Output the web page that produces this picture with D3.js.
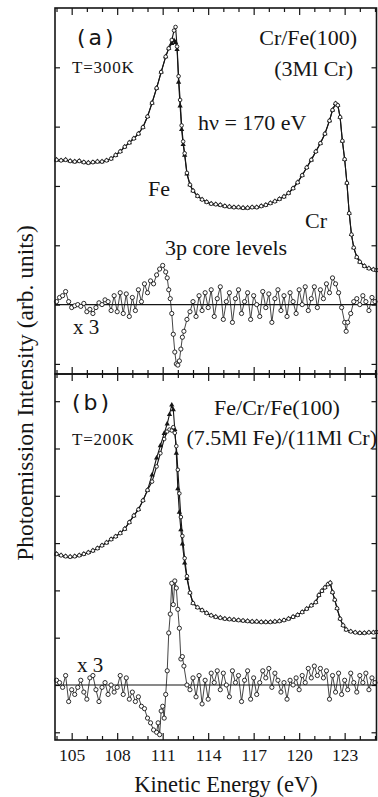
<!DOCTYPE html>
<html>
<head>
<meta charset="utf-8">
<script src="https://cdn.jsdelivr.net/npm/d3@7"></script>
<style>
  body { margin: 0; background: #fff; }
  text { font-family: "Liberation Serif", "Times New Roman", serif; fill: #151515; }
</style>
</head>
<body>
<svg id="chart" width="378" height="797"></svg>
<script>
// panel (a): Cr/Fe(100), spectra in arb. units (tick spacing = 1)
const energyA = [
  104.0, 104.3, 104.6, 104.9, 105.2, 105.5, 105.8, 106.1, 106.4, 106.7,
  107.0, 107.3, 107.6, 107.9, 108.2, 108.5, 108.8, 109.1, 109.4, 109.7,
  110.0, 110.3, 110.6, 110.9, 111.2, 111.4, 111.6, 111.75, 111.85, 111.95,
  112.05, 112.15, 112.25, 112.35, 112.45, 112.6, 112.8, 113.0, 113.3, 113.6,
  113.9, 114.2, 114.5, 114.8, 115.1, 115.4, 115.7, 116.0, 116.3, 116.6,
  116.9, 117.2, 117.5, 117.8, 118.1, 118.4, 118.7, 119.0, 119.3, 119.6,
  119.9, 120.2, 120.5, 120.8, 121.1, 121.4, 121.7, 122.0, 122.2, 122.4,
  122.55, 122.7, 122.85, 123.0, 123.15, 123.3, 123.45, 123.6, 123.8, 124.0,
  124.3, 124.6, 124.9, 125.1
];
const circA = [
  2.44, 2.43, 2.44, 2.42, 2.41, 2.42, 2.40, 2.39, 2.40, 2.41,
  2.41, 2.43, 2.46, 2.52, 2.58, 2.66, 2.73, 2.80, 2.88, 2.99,
  3.17, 3.40, 3.65, 3.92, 4.18, 4.32, 4.46, 4.62, 4.68, 4.35,
  3.85, 3.45, 3.02, 2.75, 2.55, 2.22, 2.02, 1.92, 1.83, 1.77,
  1.73, 1.70, 1.69, 1.68, 1.66, 1.65, 1.64, 1.64, 1.63, 1.63,
  1.64, 1.64, 1.66, 1.68, 1.71, 1.74, 1.78, 1.82, 1.88, 1.96,
  2.06, 2.18, 2.31, 2.44, 2.58, 2.72, 2.88, 3.10, 3.28, 3.39,
  3.36, 3.16, 2.76, 2.45, 2.05, 1.54, 1.18, 0.96, 0.80, 0.72,
  0.65, 0.61, 0.59, 0.58
];
const triA = [
  2.44, 2.43, 2.44, 2.42, 2.41, 2.42, 2.40, 2.39, 2.40, 2.41,
  2.41, 2.43, 2.46, 2.52, 2.58, 2.66, 2.73, 2.80, 2.88, 2.99,
  3.17, 3.40, 3.65, 3.92, 4.18, 4.32, 4.40, 4.45, 4.42, 4.30,
  3.75, 3.35, 2.95, 2.70, 2.52, 2.20, 2.02, 1.92, 1.83, 1.77,
  1.73, 1.70, 1.69, 1.68, 1.66, 1.65, 1.64, 1.64, 1.63, 1.63,
  1.64, 1.64, 1.66, 1.68, 1.71, 1.74, 1.78, 1.82, 1.88, 1.96,
  2.06, 2.18, 2.31, 2.44, 2.58, 2.72, 2.88, 3.10, 3.28, 3.39,
  3.36, 3.16, 2.76, 2.45, 2.05, 1.54, 1.18, 0.96, 0.80, 0.72,
  0.65, 0.61, 0.59, 0.58
];
// difference x 3, panel (a)
const diffA = [
  [104.0, 0.05], [104.2, 0.12], [104.4, 0.15], [104.6, 0.22], [104.8, 0.05], [105.0, -0.05], [105.2, -0.02], [105.4, 0.0], [105.6, -0.03], [105.8, 0.02],
  [106.0, -0.12], [106.2, -0.08], [106.4, -0.15], [106.6, -0.05], [106.8, 0.03], [107.0, 0.0], [107.2, 0.08], [107.4, 0.05], [107.6, -0.1], [107.8, 0.15],
  [108.0, -0.12], [108.2, 0.2], [108.4, -0.15], [108.6, 0.18], [108.8, -0.2], [109.0, 0.12], [109.2, -0.1], [109.4, 0.25], [109.6, 0.05], [109.8, 0.35],
  [110.0, 0.2], [110.2, 0.4], [110.4, 0.35], [110.6, 0.5], [110.8, 0.6], [111.0, 0.66], [111.2, 0.55], [111.3, 0.45], [111.4, 0.25], [111.5, 0.1],
  [111.6, -0.15], [111.7, -0.5], [111.8, -0.8], [111.9, -1.0], [112.0, -1.02], [112.1, -0.95], [112.2, -0.75], [112.3, -0.55], [112.4, -0.45], [112.6, -0.25],
  [112.8, -0.12], [113.0, 0.05], [113.2, -0.2], [113.4, 0.15], [113.6, -0.1], [113.8, 0.2], [114.0, -0.05], [114.2, 0.25], [114.4, -0.2], [114.6, 0.1],
  [114.8, 0.3], [115.0, -0.25], [115.2, 0.05], [115.4, 0.2], [115.6, -0.3], [115.8, 0.1], [116.0, 0.25], [116.2, -0.15], [116.4, 0.05], [116.6, 0.2],
  [116.8, -0.25], [117.0, 0.15], [117.2, 0.0], [117.4, -0.2], [117.6, 0.22], [117.8, -0.05], [118.0, 0.18], [118.2, -0.3], [118.4, 0.1], [118.6, 0.25],
  [118.8, -0.1], [119.0, 0.15], [119.2, -0.2], [119.4, 0.2], [119.6, 0.05], [119.8, -0.15], [120.0, 0.25], [120.2, 0.0], [120.4, 0.3], [120.6, -0.1],
  [120.8, 0.1], [121.0, 0.3], [121.2, -0.05], [121.4, 0.25], [121.6, 0.1], [121.8, 0.35], [122.0, 0.2], [122.2, 0.45], [122.4, 0.35], [122.6, 0.2],
  [122.8, -0.05], [123.0, -0.3], [123.1, -0.45], [123.2, -0.3], [123.4, -0.15], [123.6, 0.05], [123.8, 0.1], [124.0, 0.0], [124.2, 0.15], [124.4, 0.05],
  [124.6, -0.1], [124.8, 0.12], [125.0, 0.05]
];

// panel (b): Fe/Cr/Fe(100)
const energyB = [
  104.0, 104.3, 104.6, 104.9, 105.2, 105.5, 105.8, 106.1, 106.4, 106.7,
  107.0, 107.3, 107.6, 107.9, 108.2, 108.5, 108.8, 109.1, 109.4, 109.7,
  110.0, 110.3, 110.6, 110.85, 111.1, 111.3, 111.45, 111.6, 111.7, 111.8,
  111.9, 112.0, 112.1, 112.2, 112.3, 112.45, 112.6, 112.8, 113.0, 113.3,
  113.6, 113.9, 114.2, 114.5, 114.8, 115.1, 115.4, 115.7, 116.0, 116.3,
  116.6, 116.9, 117.2, 117.5, 117.8, 118.1, 118.4, 118.7, 119.0, 119.3,
  119.6, 119.9, 120.2, 120.5, 120.8, 121.1, 121.3, 121.5, 121.7, 121.9,
  122.05, 122.2, 122.35, 122.5, 122.7, 122.9, 123.1, 123.4, 123.7, 124.0,
  124.3, 124.6, 124.9, 125.1
];
const triB = [
  2.77, 2.74, 2.72, 2.71, 2.72, 2.74, 2.77, 2.80, 2.84, 2.89,
  2.95, 3.01, 3.08, 3.14, 3.21, 3.30, 3.44, 3.58, 3.71, 3.90,
  4.12, 4.44, 4.80, 5.06, 5.32, 5.52, 5.72, 5.92, 5.82, 5.40,
  4.90, 4.15, 3.65, 3.28, 2.98, 2.58, 2.25, 1.95, 1.73, 1.64,
  1.58, 1.52, 1.47, 1.44, 1.42, 1.40, 1.39, 1.38, 1.37, 1.36,
  1.35, 1.34, 1.34, 1.33, 1.33, 1.33, 1.34, 1.35, 1.37, 1.40,
  1.44, 1.48, 1.54, 1.61, 1.68, 1.75, 1.90, 1.99, 2.06, 2.13,
  2.16, 1.96, 1.80, 1.62, 1.40, 1.26, 1.17, 1.13, 1.11, 1.10,
  1.10, 1.11, 1.11, 1.12
];
const circB = [
  2.77, 2.74, 2.72, 2.71, 2.72, 2.74, 2.77, 2.80, 2.84, 2.89,
  2.95, 3.01, 3.08, 3.14, 3.21, 3.30, 3.44, 3.58, 3.71, 3.90,
  4.12, 4.30, 4.62, 4.90, 5.20, 5.36, 5.40, 5.38, 5.45, 5.33,
  5.05, 4.55, 4.05, 3.55, 3.15, 2.68, 2.30, 1.95, 1.73, 1.64,
  1.58, 1.52, 1.47, 1.44, 1.42, 1.40, 1.39, 1.38, 1.37, 1.36,
  1.35, 1.34, 1.34, 1.33, 1.33, 1.33, 1.34, 1.35, 1.37, 1.40,
  1.44, 1.48, 1.54, 1.61, 1.68, 1.75, 1.90, 1.99, 2.06, 2.13,
  2.16, 1.96, 1.80, 1.62, 1.40, 1.26, 1.17, 1.13, 1.11, 1.10,
  1.10, 1.11, 1.11, 1.12
];
const diffB = [
  [104.0, 0.1], [104.2, 0.05], [104.4, -0.05], [104.6, 0.2], [104.8, -0.35], [105.0, -0.1], [105.2, -0.2], [105.4, -0.05], [105.6, 0.1], [105.8, -0.15],
  [106.0, -0.3], [106.2, 0.15], [106.4, 0.2], [106.6, -0.1], [106.8, -0.35], [107.0, -0.05], [107.2, 0.05], [107.4, -0.2], [107.6, 0.0], [107.8, -0.15],
  [108.0, -0.05], [108.2, 0.2], [108.4, -0.2], [108.6, 0.15], [108.8, -0.3], [109.0, -0.15], [109.2, -0.35], [109.4, -0.25], [109.6, -0.45], [109.8, -0.5],
  [110.0, -0.7], [110.2, -0.8], [110.4, -0.95], [110.6, -1.0], [110.7, -0.8], [110.8, -1.05], [110.9, -0.55], [111.0, -0.45], [111.1, -0.7], [111.2, -0.2],
  [111.3, 0.3], [111.4, 1.1], [111.5, 1.5], [111.6, 2.15], [111.7, 1.7], [111.8, 2.2], [111.9, 2.05], [112.0, 1.6], [112.1, 1.2], [112.2, 0.55],
  [112.3, 0.6], [112.4, 0.4], [112.6, 0.0], [112.8, -0.1], [113.0, 0.15], [113.2, -0.25], [113.4, 0.2], [113.6, -0.4], [113.8, 0.1], [114.0, -0.3],
  [114.2, 0.25], [114.4, 0.05], [114.6, 0.3], [114.8, -0.1], [115.0, 0.25], [115.2, 0.0], [115.4, -0.25], [115.6, 0.3], [115.8, 0.05], [116.0, 0.2],
  [116.2, -0.35], [116.4, 0.1], [116.6, 0.3], [116.8, -0.3], [117.0, 0.15], [117.2, -0.2], [117.4, 0.05], [117.6, 0.3], [117.8, 0.15], [118.0, 0.35],
  [118.2, -0.05], [118.4, 0.25], [118.6, 0.1], [118.8, -0.15], [119.0, 0.05], [119.2, -0.3], [119.4, 0.1], [119.6, 0.0], [119.8, 0.15], [120.0, -0.1],
  [120.2, 0.2], [120.4, 0.05], [120.6, 0.35], [120.8, 0.15], [121.0, 0.4], [121.2, 0.2], [121.4, 0.35], [121.6, 0.15], [121.8, 0.3], [122.0, -0.3],
  [122.2, 0.2], [122.4, -0.15], [122.6, 0.25], [122.8, -0.2], [123.0, 0.1], [123.2, -0.1], [123.4, 0.25], [123.6, 0.05], [123.8, -0.15], [124.0, 0.2],
  [124.2, 0.05], [124.4, 0.25], [124.6, -0.1], [124.8, 0.15], [125.0, 0.05]
];

const majorTicks = [105, 108, 111, 114, 117, 120, 123];
const minorTicks = [104, 106, 107, 109, 110, 112, 113, 115, 116, 118, 119, 121, 122, 124, 125];

const svg = d3.select('#chart');
const left = 55, right = 376.5;
const ink = '#151515';

const x = d3.scaleLinear().domain([103.9, 125.1]).range([left, right]);

const panels = [
  { top: 8, bottom: 374, domain: [-1.17, 5.0], yTicks: [-1, 0, 1, 2, 3, 4],
    energy: energyA, tri: triA, circ: circA, diff: diffA },
  { top: 374, bottom: 740, domain: [-1.163, 6.575], yTicks: [-1, 0, 1, 2, 3, 4, 5, 6],
    energy: energyB, tri: triB, circ: circB, diff: diffB }
];

function styleAxis(g) {
  g.select('.domain').remove();
  g.selectAll('.tick line').attr('stroke', ink).attr('stroke-width', 1.2);
}

panels.forEach((p, i) => {
  const y = d3.scaleLinear().domain(p.domain).range([p.bottom, p.top]);
  p.y = y;

  // y ticks, inside on both sides
  svg.append('g').attr('transform', `translate(${left},0)`)
    .call(d3.axisLeft(y).tickValues(p.yTicks).tickSize(-5).tickFormat(''))
    .call(styleAxis);
  svg.append('g').attr('transform', `translate(${right},0)`)
    .call(d3.axisRight(y).tickValues(p.yTicks).tickSize(-5).tickFormat(''))
    .call(styleAxis);

  // x ticks top and bottom, inward
  [[d3.axisTop, p.top], [d3.axisBottom, p.bottom]].forEach(([ax, yy]) => {
    svg.append('g').attr('transform', `translate(0,${yy})`)
      .call(ax(x).tickValues(majorTicks).tickSize(-7).tickFormat(''))
      .call(styleAxis);
    svg.append('g').attr('transform', `translate(0,${yy})`)
      .call(ax(x).tickValues(minorTicks).tickSize(-4).tickFormat(''))
      .call(styleAxis);
  });

  // zero line of difference curve
  svg.append('line')
    .attr('x1', left).attr('x2', right)
    .attr('y1', y(0)).attr('y2', y(0))
    .attr('stroke', ink).attr('stroke-width', 1.1);

  const line = d3.line().x(d => x(d[0])).y(d => y(d[1]));

  const triPts = p.energy.map((e, k) => [e, p.tri[k]]).filter(d => d[1] != null);
  const circPts = p.energy.map((e, k) => [e, p.circ[k]]).filter(d => d[1] != null);

  // spectra
  [triPts, circPts].forEach(pts => {
    svg.append('path').datum(pts)
      .attr('d', line)
      .attr('fill', 'none')
      .attr('stroke', ink)
      .attr('stroke-width', 1.1);
  });
  svg.append('g').selectAll('path')
    .data(triPts)
    .join('path')
    .attr('transform', d => `translate(${x(d[0])},${y(d[1])})`)
    .attr('d', d3.symbol(d3.symbolTriangle, 12))
    .attr('fill', ink);
  svg.append('g').selectAll('circle')
    .data(circPts)
    .join('circle')
    .attr('cx', d => x(d[0]))
    .attr('cy', d => y(d[1]))
    .attr('r', 1.8)
    .attr('fill', '#fff')
    .attr('stroke', ink)
    .attr('stroke-width', 0.9);

  // difference x 3
  svg.append('path').datum(p.diff)
    .attr('d', line)
    .attr('fill', 'none')
    .attr('stroke', ink)
    .attr('stroke-width', 0.8);
  svg.append('g').selectAll('circle')
    .data(p.diff)
    .join('circle')
    .attr('cx', d => x(d[0]))
    .attr('cy', d => y(d[1]))
    .attr('r', 2.1)
    .attr('fill', '#fff')
    .attr('stroke', ink)
    .attr('stroke-width', 0.9);

  // frame
  svg.append('rect')
    .attr('x', left).attr('y', p.top)
    .attr('width', right - left).attr('height', p.bottom - p.top)
    .attr('fill', 'none')
    .attr('stroke', ink)
    .attr('stroke-width', 1.6);
});

// bottom tick labels
svg.append('g').attr('transform', `translate(0,${panels[1].bottom})`)
  .call(d3.axisBottom(x).tickValues(majorTicks).tickSize(0).tickPadding(9).tickFormat(d3.format('d')))
  .call(g => g.select('.domain').remove())
  .selectAll('text')
  .attr('fill', ink)
  .style('font-family', '"Liberation Serif", serif')
  .style('font-size', '17.5px');

// axis titles
svg.append('text')
  .attr('x', 226).attr('y', 792)
  .attr('text-anchor', 'middle')
  .style('font-size', '22.5px')
  .text('Kinetic Energy (eV)');
svg.append('text')
  .attr('transform', 'translate(33,393) rotate(-90)')
  .attr('text-anchor', 'middle')
  .style('font-size', '23.5px')
  .text('Photoemission Intensity (arb. units)');

// annotations
const notes = [
  { t: '(a)', x: 77, y: 45, size: 22, anchor: 'start', sans: true },
  { t: 'T=300K', x: 72, y: 73, size: 17, anchor: 'start', ls: 0.8 },
  { t: 'Cr/Fe(100)', x: 357, y: 45, size: 22, anchor: 'end' },
  { t: '(3Ml Cr)', x: 353, y: 76, size: 22, anchor: 'end' },
  { t: 'h\u03bd = 170 eV', x: 198, y: 130, size: 22, anchor: 'start' },
  { t: 'Fe', x: 148, y: 196, size: 22, anchor: 'start' },
  { t: 'Cr', x: 305, y: 228, size: 22, anchor: 'start' },
  { t: '3p core levels', x: 165, y: 255, size: 22, anchor: 'start' },
  { t: 'x 3', x: 73, y: 334, size: 21, anchor: 'start' },
  { t: '(b)', x: 72, y: 410, size: 22, anchor: 'start', sans: true },
  { t: 'T=200K', x: 72, y: 445, size: 17, anchor: 'start', ls: 0.8 },
  { t: 'Fe/Cr/Fe(100)', x: 277, y: 415, size: 22, anchor: 'middle' },
  { t: '(7.5Ml Fe)/(11Ml Cr)', x: 377, y: 445, size: 22, anchor: 'end' },
  { t: 'x 3', x: 77, y: 672, size: 21, anchor: 'start' }
];
svg.append('g').selectAll('text')
  .data(notes)
  .join('text')
  .attr('x', d => d.x)
  .attr('y', d => d.y)
  .attr('text-anchor', d => d.anchor)
  .style('font-size', d => d.size + 'px')
  .style('font-family', d => d.sans ? '"DejaVu Sans", sans-serif' : null)
  .style('letter-spacing', d => d.sans ? '3px' : (d.ls ? d.ls + 'px' : null))
  .text(d => d.t);
</script>
</body>
</html>
